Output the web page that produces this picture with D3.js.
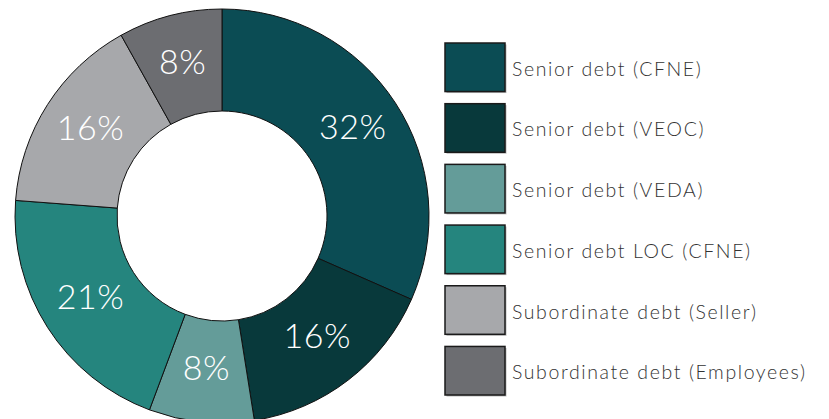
<!DOCTYPE html>
<html><head><meta charset="utf-8">
<script src="https://cdn.jsdelivr.net/npm/d3@7"></script>
<style>body{margin:0;background:#fff}svg{display:block}</style>
</head><body>
<script>
const categories = ["Senior debt (CFNE)","Senior debt (VEOC)","Senior debt (VEDA)","Senior debt LOC (CFNE)","Subordinate debt (Seller)","Subordinate debt (Employees)"];
const values = [31.6, 15.9, 8.2, 20.5, 15.7, 8.1];
const labels = ["32%","16%","8%","21%","16%","8%"];
const colors = ["#0b4c54","#08393b","#649c99","#25857e","#a7a8ab","#6c6d71"];

const W = 829, H = 419;
const svg = d3.select("body").append("svg").attr("width", W).attr("height", H);
const cx = 222, cy = 216, R = 207, r = 105;
const data = categories.map((c,i)=>({cat:c, v:values[i], label:labels[i], color:colors[i]}));
const pie = d3.pie().value(d=>d.v).sort(null);
const arc = d3.arc().innerRadius(r).outerRadius(R);
const g = svg.append("g").attr("transform",`translate(${cx},${cy})`);
const arcs = pie(data);
g.selectAll("path").data(arcs).join("path")
  .attr("d", arc).attr("fill", d=>d.data.color)
  .attr("stroke","#111").attr("stroke-width",1);
g.selectAll("text").data(arcs).join("text")
  .attr("transform", d=>{const c=arc.centroid(d); return `translate(${c[0]},${c[1]-5})`;})
  .attr("text-anchor","middle").attr("dominant-baseline","central")
  .attr("fill","#fff").attr("font-family","Lato, 'Open Sans', sans-serif")
  .attr("font-weight",300).attr("font-size",34).attr("letter-spacing",0.5)
  .text(d=>d.data.label);

const ly = d3.scaleBand().domain(categories).range([43, 395]).paddingInner(0.2).paddingOuter(0);
const lg = svg.append("g");
const items = lg.selectAll("g").data(data).join("g")
  .attr("transform", d=>`translate(445,${ly(d.cat)})`);
items.append("rect").attr("x",1.5).attr("y",1.5).attr("width",60).attr("height",ly.bandwidth())
  .attr("fill","#bbb");
items.append("rect").attr("width",60).attr("height",ly.bandwidth())
  .attr("fill",d=>d.color).attr("stroke","#1a1a1a").attr("stroke-width",1.5);
items.append("text").attr("x",67).attr("y",ly.bandwidth()/2+1)
  .attr("dominant-baseline","central").attr("fill","#333")
  .attr("font-family","Lato, 'Open Sans', sans-serif").attr("font-weight",300).attr("font-size",19.5)
  .attr("letter-spacing",1.6)
  .text(d=>d.cat);
</script>
</body></html>
